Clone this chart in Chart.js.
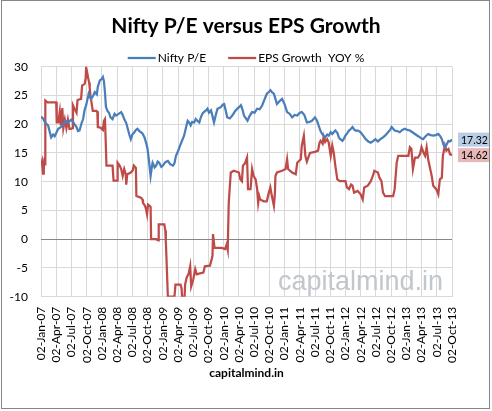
<!DOCTYPE html>
<html>
<head>
<meta charset="utf-8">
<script src="https://cdn.jsdelivr.net/npm/chart.js@4.4.0/dist/chart.umd.min.js"></script>
<style>
  body { margin: 0; background: #fff; }
  canvas { display: block; }
</style>
</head>
<body>
<canvas id="peChart" width="492" height="411"></canvas>
<script>
// months counted from 02-Jan-07
const peMonths = [0,0.4,0.8,1.4,2.0,2.4,2.7,3.4,3.9,4.3,4.8,5.3,6.0,6.6,7.0,7.3,7.6,8.0,8.3,8.6,8.9,9.4,9.9,10.3,10.6,11.0,11.2,11.6,12.0,12.2,12.4,12.6,12.8,13.1,13.4,13.7,14.1,14.5,14.8,15.3,15.8,16.1,16.4,16.8,17.1,17.4,17.7,18.0,18.4,18.7,19.0,19.4,19.7,20.0,20.4,20.7,21.0,21.3,21.6,21.8,22.0,22.4,22.7,23.0,23.3,23.7,24.0,24.5,25.0,25.5,26.0,26.3,26.6,27.0,27.5,28.2,28.6,28.9,29.2,29.5,29.8,30.2,30.5,30.8,31.2,31.5,31.8,32.1,32.5,32.8,33.1,33.5,33.8,34.1,34.5,34.8,35.1,35.5,35.8,36.1,36.4,36.7,37.2,37.7,38.2,38.7,39.1,39.4,39.7,40.0,40.7,41.1,41.6,42.1,42.6,43.1,43.6,44.0,44.5,44.9,45.2,45.6,45.9,46.2,46.5,47.0,47.5,48.0,48.5,49.0,49.5,50.0,50.5,51.0,51.4,51.9,52.4,52.9,53.4,54.0,54.4,54.7,55.1,55.4,56.0,56.4,56.7,57.1,57.4,58.0,58.4,58.7,59.0,59.4,59.7,60.0,60.4,60.7,61.1,61.4,61.7,62.0,62.5,63.0,63.5,64.0,64.5,65.0,65.5,65.9,66.4,66.9,67.4,67.9,68.4,68.8,69.1,69.4,69.7,70.2,70.7,71.2,71.7,72.2,72.7,73.2,73.7,74.2,74.7,75.0,75.3,75.8,76.3,76.8,77.3,77.8,78.3,78.7,79.0,79.3,79.6,79.9,80.3,80.6,81.0];
const peValues = [21.3,21.0,20.3,19.8,17.7,18.2,17.9,19.2,19.5,19.8,20.6,20.3,20.8,20.0,19.5,18.8,18.9,20.2,20.9,22.5,23.3,25.3,24.4,25.0,25.6,25.2,26.5,27.6,27.9,28.2,27.5,25.6,23.0,22.3,22.0,21.2,20.9,21.8,21.5,21.8,22.1,21.6,20.9,20.2,19.2,18.2,17.4,18.2,18.6,19.0,19.2,18.8,18.6,18.4,17.7,16.8,15.7,13.5,11.0,12.3,13.3,12.5,12.8,13.5,13.3,12.6,12.8,13.4,13.6,13.0,12.8,13.2,14.5,15.3,16.5,18.0,19.5,20.6,20.3,19.8,20.4,20.3,20.9,20.6,20.3,21.2,21.8,22.1,22.4,22.7,22.0,22.4,21.4,20.3,21.8,22.7,22.8,23.0,23.4,23.5,22.4,21.2,21.0,21.5,22.2,22.7,23.0,23.3,22.6,21.5,20.6,21.4,22.1,22.0,22.7,22.6,23.3,24.2,25.3,25.6,25.9,25.5,25.3,24.4,23.5,24.0,24.4,23.5,22.1,21.8,21.2,21.6,21.5,22.0,22.1,21.6,20.3,20.4,20.6,21.2,20.6,19.8,18.8,18.3,17.7,18.2,18.0,18.6,18.3,18.9,18.5,17.7,17.4,17.1,17.5,18.0,18.5,18.9,19.2,19.5,19.1,18.9,18.9,18.6,18.0,17.4,17.0,16.8,17.1,17.4,17.0,17.4,17.7,18.1,18.6,19.0,19.5,19.2,18.9,18.8,18.6,19.0,19.2,19.0,18.9,18.6,18.3,18.0,17.7,17.5,17.4,17.9,18.3,18.1,18.0,18.1,18.3,17.9,17.4,16.5,16.0,16.4,17.1,17.0,17.32];

const epsMonths = [0,0.2,0.4,0.55,0.7,0.8,0.85,1.3,2.5,3.0,3.1,3.4,3.7,3.9,4.2,4.4,4.7,5.0,5.3,5.6,5.9,6.2,6.3,6.6,7.0,7.2,7.9,8.0,8.1,8.6,8.8,8.9,9.1,9.3,9.5,9.6,9.8,9.9,10.2,10.9,11.1,11.2,11.7,12.2,12.4,12.6,12.7,12.9,14.1,14.3,15.0,15.1,15.5,15.8,16.1,16.4,16.7,16.8,17.0,17.7,18.1,18.3,18.7,18.8,19.7,20.0,20.1,20.5,20.7,20.9,21.1,21.4,21.6,21.7,22.7,23.1,23.2,24.3,24.5,24.6,24.8,25.0,26.3,26.5,27.5,27.7,27.8,28.3,28.4,28.7,29.1,29.4,29.6,30.0,30.4,30.7,31.5,32.0,32.3,33.3,33.8,33.9,34.2,35.6,36.3,36.6,36.8,37.0,37.4,38.0,39.0,39.3,39.6,39.8,40.2,40.6,40.8,41.3,41.6,41.9,42.3,42.6,42.8,43.0,43.2,43.9,44.5,44.9,45.2,45.5,45.9,46.1,46.2,46.5,47.5,48.2,48.5,48.7,49.5,50.2,50.5,51.2,51.4,51.8,52.1,52.4,53.0,54.0,54.6,54.9,55.1,55.5,55.7,56.0,56.4,56.7,57.1,57.4,57.7,58.0,58.4,58.9,60.0,60.3,60.7,61.1,61.4,61.7,62.4,63.0,63.4,63.7,64.4,65.0,65.4,65.7,66.4,66.7,67.1,67.4,67.8,69.4,69.7,70.1,70.4,72.4,72.7,73.0,73.3,73.7,74.3,74.7,75.0,75.4,75.7,76.0,76.3,77.0,77.3,77.9,78.3,78.6,79.0,79.2,79.6,79.9,80.3,80.6,81.0];
const epsValues = [12.8,13.5,11.4,12.5,14.2,13.0,24.1,23.8,23.8,23.8,20.3,20.3,22.2,19.8,22.8,19.3,20.8,19.3,20.8,19.2,19.2,19.3,23.3,22.7,22.0,24.2,24.4,24.4,26.7,27.0,28.0,29.9,29.0,28.0,27.2,26.3,24.4,24.1,22.3,22.3,22.2,19.5,19.4,19.0,20.6,20.9,18.5,12.8,12.8,10.2,10.2,13.3,12.8,12.2,11.0,12.2,11.3,9.5,11.3,11.6,12.0,12.8,12.4,7.5,7.2,6.9,6.3,5.8,5.2,4.3,6.0,5.8,5.6,0.0,0.0,-0.2,2.6,2.6,1.5,-0.3,-5,-10,-10,-7.9,-7.9,-8.5,-10,-10,-7.9,-6.7,-6.0,-4.7,-8.2,-7.0,-5.2,-6.1,-5.9,-5.8,-4.7,-4.6,-2.9,0.9,-1.5,-1.5,-1.7,-0.9,-1.8,6.3,11.6,11.9,11.6,10.4,10.1,12.8,13.2,14.2,8.7,8.7,12.2,11.0,10.4,8.7,6.3,7.5,6.9,6.6,6.6,8.1,9.0,7.5,5.8,8.0,11.0,11.6,11.9,12.2,13.9,12.2,11.6,11.3,13.3,13.9,16.3,18.0,14.5,13.5,15.0,15.2,15.4,16.8,17.1,16.6,17.8,16.9,17.4,16.8,14.5,16.3,15.0,12.8,10.4,10.1,10.1,9.0,8.7,9.5,9.3,8.1,8.4,7.8,6.9,9.0,9.3,10.1,11.0,11.9,11.6,10.7,10.1,8.1,7.5,7.5,8.7,13.3,14.5,14.5,16.0,15.7,12.2,14.2,14.2,14.8,16.0,15.0,14.5,16.0,13.9,11.0,9.3,8.7,7.8,10.4,10.7,14.5,16.3,15.4,15.7,14.8,14.62];

const quarterNames = ['Jan', 'Apr', 'Jul', 'Oct'];
const seriesNames = ['Nifty P/E', 'EPS Growth  YOY %'];
const seriesColors = ['#4a7ebb', '#be4b48'];
const labelBoxColors = ['#b9cde5', '#e6b9b8'];
const chartTitle = 'Nifty P/E versus EPS Growth';

function toPoints(xs, ys) {
    return xs.map((x, i) => ({ x: x, y: ys[i] }));
}

function quarterLabel(v) {
    const yy = 7 + Math.floor(v / 12);
    const q = Math.round((v % 12) / 3);
    return '02-' + quarterNames[q] + '-' + String(yy).padStart(2, '0');
}

// title, legend, watermark, last value boxes and the outer frame
const extrasPlugin = {
    id: 'extras',
    beforeDatasetsDraw(chart) {
        const ctx = chart.ctx;
        const area = chart.chartArea;
        ctx.save();
        ctx.font = '27px "Liberation Sans", Arial, sans-serif';
        ctx.fillStyle = '#c2c6cd';
        ctx.textAlign = 'right';
        ctx.textBaseline = 'alphabetic';
        ctx.fillText('capitalmind.in', area.right - 9, area.bottom - 7);
        ctx.restore();
    },
    afterDraw(chart) {
        const ctx = chart.ctx;
        const area = chart.chartArea;
        const yScale = chart.scales.y;
        ctx.save();

        // title
        ctx.font = 'bold 21px Lato, sans-serif';
        ctx.fillStyle = '#000';
        ctx.textAlign = 'center';
        ctx.textBaseline = 'alphabetic';
        ctx.fillText(chartTitle, chart.width / 2, 33);

        // legend
        ctx.font = '12px Lato, sans-serif';
        const widths = chart.data.datasets.map(ds => ctx.measureText(ds.label).width);
        const total = widths.reduce((a, w) => a + 30 + w, 0) + 22;
        let x = chart.width / 2 - total / 2;
        const ly = 58;
        chart.data.datasets.forEach((ds, i) => {
            ctx.strokeStyle = ds.borderColor;
            ctx.lineWidth = 2.25;
            ctx.beginPath();
            ctx.moveTo(x, ly);
            ctx.lineTo(x + 28, ly);
            ctx.stroke();
            ctx.fillStyle = '#000';
            ctx.textAlign = 'left';
            ctx.textBaseline = 'middle';
            ctx.fillText(ds.label, x + 30, ly);
            x += 30 + widths[i] + 22;
        });

        // last value boxes
        ctx.font = '10.5px Lato, sans-serif';
        chart.data.datasets.forEach((ds, i) => {
            const last = ds.data[ds.data.length - 1].y;
            const py = yScale.getPixelForValue(last);
            ctx.fillStyle = labelBoxColors[i];
            ctx.fillRect(area.right + 6, py - 7, 32, 14);
            ctx.fillStyle = '#000';
            ctx.textAlign = 'left';
            ctx.textBaseline = 'middle';
            ctx.fillText(last.toFixed(2), area.right + 9, py + 0.5);
        });

        // frame
        ctx.strokeStyle = '#868686';
        ctx.lineWidth = 1;
        ctx.strokeRect(1.5, 0.5, 488, 408);
        ctx.restore();
    }
};

const ctx = document.getElementById('peChart').getContext('2d');
new Chart(ctx, {
    type: 'line',
    data: {
        datasets: [
            {
                label: seriesNames[0],
                data: toPoints(peMonths, peValues),
                borderColor: seriesColors[0],
                backgroundColor: seriesColors[0],
            },
            {
                label: seriesNames[1],
                data: toPoints(epsMonths, epsValues),
                borderColor: seriesColors[1],
                backgroundColor: seriesColors[1],
            },
        ]
    },
    options: {
        responsive: false,
        animation: false,
        layout: { padding: { left: 0, right: 40, top: 66.7, bottom: 0 } },
        elements: {
            point: { radius: 0 },
            line: { borderWidth: 2.25, tension: 0 }
        },
        scales: {
            x: {
                type: 'linear',
                min: 0,
                max: 81,
                afterFit: function(scale) { scale.height = 114.3; },
                grid: { color: '#d9d9d9', drawTicks: false },
                border: { display: false },
                ticks: {
                    stepSize: 3,
                    autoSkip: false,
                    minRotation: 90,
                    maxRotation: 90,
                    padding: 10,
                    color: '#000',
                    font: { family: 'Lato', size: 12 },
                    callback: function(value) { return quarterLabel(value); }
                },
                title: {
                    display: true,
                    text: 'capitalmind.in',
                    color: '#000',
                    font: { family: 'Lato', size: 12, weight: 'bold' },
                    padding: { top: 0, bottom: 30.8 }
                }
            },
            y: {
                min: -10,
                max: 30,
                afterFit: function(scale) { scale.width = 41; },
                grid: {
                    drawTicks: false,
                    color: function(c) { return c.tick && c.tick.value === 0 ? '#868686' : '#d9d9d9'; }
                },
                border: { display: false },
                ticks: {
                    stepSize: 5,
                    padding: 13,
                    color: '#000',
                    font: { family: 'Lato', size: 12 }
                }
            }
        },
        plugins: {
            legend: { display: false },
            tooltip: { enabled: false },
            title: { display: false }
        }
    },
    plugins: [extrasPlugin]
});
</script>
</body>
</html>
